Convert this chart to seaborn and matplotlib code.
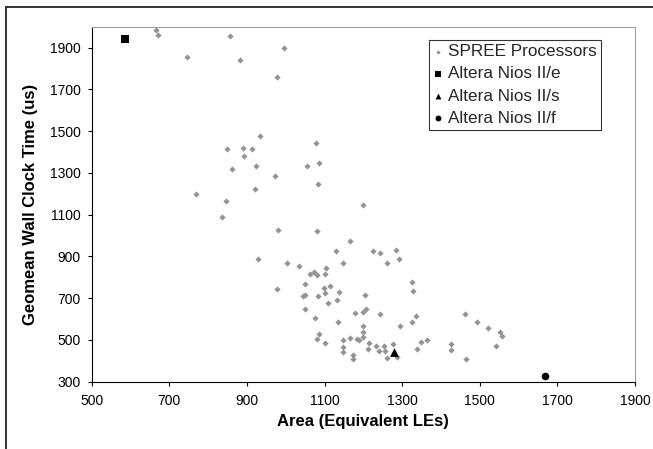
import matplotlib
matplotlib.use("Agg")
import matplotlib.pyplot as plt
from matplotlib.lines import Line2D
import seaborn as sns
import pandas as pd

# SPREE processor design points: area (equivalent LEs) and geomean wall clock time (us)
spree_area = [666, 671, 856, 995, 746, 882, 978, 934, 1078, 848, 889, 913, 892, 862,
              924, 972, 1055, 1087, 1082, 922, 770, 845, 835, 979, 1081, 1129, 928,
              1004, 1035, 1104, 1074, 1063, 1081, 1102, 1050, 978, 1098, 1115, 1102,
              1045, 1050, 1083, 1138, 1110, 1133, 1050, 1199, 1166, 1226, 1242, 1283,
              1293, 1261, 1147, 1325, 1327, 1205, 1208, 1076, 1178, 1200, 1242, 1337,
              1325, 1294, 1135, 1200, 1200, 1198, 1183, 1189, 1165, 1148, 1148, 1148,
              1174, 1174, 1085, 1080, 1100, 1214, 1212, 1232, 1240, 1254, 1256, 1260,
              1277, 1286, 1339, 1348, 1364, 1427, 1427, 1461, 1493, 1521, 1553, 1557,
              1543, 1465]
spree_time = [1985, 1958, 1956, 1896, 1856, 1841, 1761, 1477, 1442, 1414, 1420, 1414,
              1381, 1319, 1335, 1287, 1332, 1349, 1246, 1223, 1201, 1167, 1091, 1028,
              1021, 928, 888, 869, 854, 843, 826, 816, 810, 817, 770, 746, 748, 757,
              724, 712, 715, 711, 730, 679, 691, 648, 1145, 974, 928, 917, 930, 886,
              870, 870, 778, 736, 717, 650, 607, 631, 633, 626, 615, 587, 567, 585,
              568, 537, 513, 503, 498, 508, 500, 468, 441, 426, 409, 527, 505, 484,
              484, 458, 471, 446, 472, 446, 415, 479, 420, 457, 489, 498, 482, 450,
              623, 585, 556, 540, 518, 472, 410]

# Altera Nios II reference cores
nios_names = ["Altera Nios II/e", "Altera Nios II/s", "Altera Nios II/f"]
nios_area = [586, 1280, 1669]
nios_time = [1942, 441, 327]

series_labels = ["SPREE Processors"] + nios_names
series_markers = ["D", "s", "^", "o"]
series_colors = ["#949494", "#000000", "#000000", "#000000"]
series_sizes = [10, 40, 40, 30]
legend_sizes = [5, 18, 18, 18]

x_ticks = [500, 700, 900, 1100, 1300, 1500, 1700, 1900]
y_ticks = [300, 500, 700, 900, 1100, 1300, 1500, 1700, 1900]

sns.set_theme(style="white")
plt.rcParams["font.family"] = ["Liberation Sans", "DejaVu Sans"]

fig = plt.figure(figsize=(6.53, 4.49), dpi=100)
ax = fig.add_axes([0.1404, 0.1499, 0.8320, 0.7906])

frames = [pd.DataFrame({"area": spree_area, "time": spree_time})]
for a, t in zip(nios_area, nios_time):
    frames.append(pd.DataFrame({"area": [a], "time": [t]}))

for df, mk, col, sz in zip(frames, series_markers, series_colors, series_sizes):
    sns.scatterplot(data=df, x="area", y="time", marker=mk, color=col, s=sz,
                    linewidth=0, legend=False, ax=ax)

ax.set_xlim(500, 1900)
ax.set_ylim(300, 2000)
ax.set_xticks(x_ticks)
ax.set_yticks(y_ticks)
ax.tick_params(axis="both", direction="out", length=3, width=0.8, color="black",
               labelsize=10, labelcolor="black", bottom=True, left=True)
ax.tick_params(axis="x", pad=6)
ax.tick_params(axis="y", pad=5)

for side in ["left", "bottom"]:
    ax.spines[side].set_color("black")
    ax.spines[side].set_linewidth(0.8)
for side in ["top", "right"]:
    ax.spines[side].set_color("#a0a0a0")
    ax.spines[side].set_linewidth(0.8)

ax.set_xlabel("Area (Equivalent LEs)", fontsize=12, fontweight="bold", color="black")
ax.set_ylabel("Geomean Wall Clock Time (us)", fontsize=12, fontweight="bold", color="black")
ax.xaxis.set_label_coords(0.5, -0.09)
ax.yaxis.set_label_coords(-0.098, 0.5)

leg = ax.legend(ax.collections, series_labels, loc="upper left",
                bbox_to_anchor=(0.620, 0.9625), borderaxespad=0, fontsize=12.3,
                frameon=True, fancybox=False, shadow=False, handlelength=0.6,
                handletextpad=0.3, borderpad=0.25, labelspacing=0.42,
                scatterpoints=1)
leg.get_frame().set_edgecolor("black")
leg.get_frame().set_linewidth(0.8)
for h, s in zip(leg.legend_handles, legend_sizes):
    h.set_sizes([s])

# outer chart border (top and left edges)
fig.add_artist(Line2D([0.0087, 1.0], [0.9837, 0.9837], transform=fig.transFigure,
                      color="#222222", linewidth=1.3))
fig.add_artist(Line2D([0.0087, 0.0087], [0.0, 0.9837], transform=fig.transFigure,
                      color="#222222", linewidth=1.3))

fig.savefig("out.png", dpi=100, facecolor="white")
